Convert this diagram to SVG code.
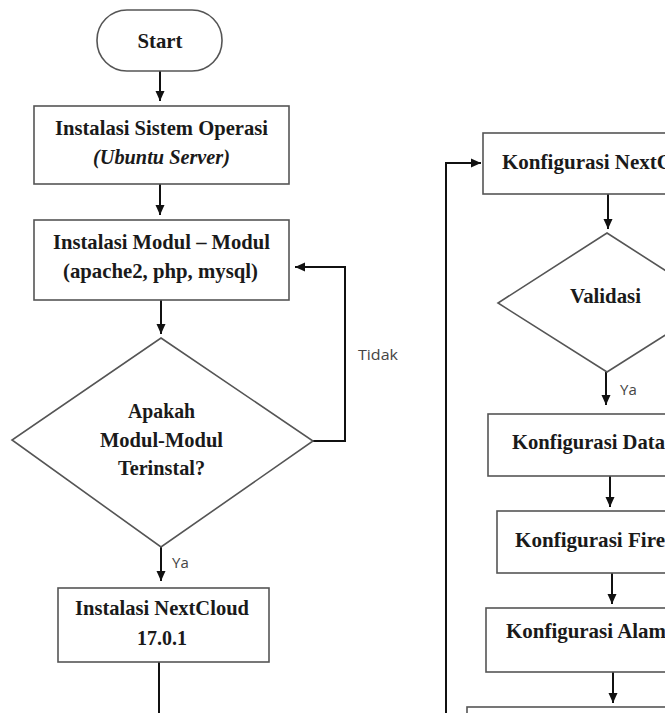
<svg xmlns="http://www.w3.org/2000/svg" width="665" height="713" viewBox="0 0 665 713">
<defs>
<marker id="ah" markerUnits="userSpaceOnUse" markerWidth="10" markerHeight="10" viewBox="0 0 10 10" refX="10" refY="5" orient="auto">
<path d="M0,0.5 L10,5 L0,9.5 Z" fill="#111"/>
</marker>
<style>
.shape{fill:#fff;stroke:#555;stroke-width:1.6}
.conn{fill:none;stroke:#111;stroke-width:2}
.t{font-family:"Liberation Serif","Times New Roman",serif;font-weight:bold;font-size:22px;fill:#1a1a1a}
.c{text-anchor:middle}
.i{font-style:italic}
.lbl{font-family:"Open Sans","DejaVu Sans",sans-serif;font-size:15px;fill:#444}
</style>
</defs>
<rect width="665" height="713" fill="#fff"/>
<g id="connectors">
<path class="conn" d="M160,71 V101" marker-end="url(#ah)"/>
<path class="conn" d="M160,184 V215" marker-end="url(#ah)"/>
<path class="conn" d="M161,300 V334" marker-end="url(#ah)"/>
<path class="conn" d="M313,441 H345 V267 H295" marker-end="url(#ah)"/>
<path class="conn" d="M161,547 V581" marker-end="url(#ah)"/>
<path class="conn" d="M159,662 V713"/>
<path class="conn" d="M446,713 V163 H481" marker-end="url(#ah)"/>
<path class="conn" d="M608,194 V229" marker-end="url(#ah)"/>
<path class="conn" d="M606,372 V405" marker-end="url(#ah)"/>
<path class="conn" d="M610,476 V507" marker-end="url(#ah)"/>
<path class="conn" d="M612,573 V604" marker-end="url(#ah)"/>
<path class="conn" d="M613,672 V703" marker-end="url(#ah)"/>
<text class="lbl" x="358" y="360" textLength="40" lengthAdjust="spacingAndGlyphs">Tidak</text>
<text class="lbl" x="172" y="568">Ya</text>
<text class="lbl" x="620" y="395">Ya</text>
</g>
<g id="start">
<rect class="shape" x="97" y="10" width="125" height="61" rx="30" ry="30"/>
<text class="t c" x="160" y="48" textLength="45" lengthAdjust="spacingAndGlyphs">Start</text>
</g>
<g id="instalasi-os">
<rect class="shape" x="34" y="106" width="255" height="78"/>
<text class="t c" x="161.5" y="135" textLength="213" lengthAdjust="spacingAndGlyphs">Instalasi Sistem Operasi</text>
<text class="t c i" x="161.5" y="164" textLength="137" lengthAdjust="spacingAndGlyphs">(Ubuntu Server)</text>
</g>
<g id="instalasi-modul">
<rect class="shape" x="34" y="220" width="255" height="80"/>
<text class="t c" x="161.5" y="249" textLength="217" lengthAdjust="spacingAndGlyphs">Instalasi Modul – Modul</text>
<text class="t c" x="160.5" y="278" textLength="195" lengthAdjust="spacingAndGlyphs">(apache2, php, mysql)</text>
</g>
<g id="cek-modul">
<polygon class="shape" points="161,338 313,441 161,547 12,440"/>
<text class="t c" x="161.5" y="418" textLength="67" lengthAdjust="spacingAndGlyphs">Apakah</text>
<text class="t c" x="161.5" y="447" textLength="123" lengthAdjust="spacingAndGlyphs">Modul-Modul</text>
<text class="t c" x="161.5" y="475" textLength="87" lengthAdjust="spacingAndGlyphs">Terinstal?</text>
</g>
<g id="instalasi-nextcloud">
<rect class="shape" x="58" y="588" width="211" height="74"/>
<text class="t c" x="162" y="615" textLength="174" lengthAdjust="spacingAndGlyphs">Instalasi NextCloud</text>
<text class="t c" x="162" y="645" textLength="50" lengthAdjust="spacingAndGlyphs">17.0.1</text>
</g>
<g id="konfigurasi-nextcloud">
<rect class="shape" x="483" y="133" width="200" height="61"/>
<text class="t" x="502" y="169" textLength="170" lengthAdjust="spacingAndGlyphs">Konfigurasi NextC</text>
</g>
<g id="validasi">
<polygon class="shape" points="607,233 716,303 607,372 498,303"/>
<text class="t c" x="605.5" y="303" textLength="71" lengthAdjust="spacingAndGlyphs">Validasi</text>
</g>
<g id="konfigurasi-data">
<rect class="shape" x="488" y="414" width="200" height="62"/>
<text class="t" x="512" y="449" textLength="153" lengthAdjust="spacingAndGlyphs">Konfigurasi Data</text>
</g>
<g id="konfigurasi-firewall">
<rect class="shape" x="497" y="511" width="200" height="62"/>
<text class="t" x="515" y="547" textLength="150" lengthAdjust="spacingAndGlyphs">Konfigurasi Fire</text>
</g>
<g id="konfigurasi-alamat">
<rect class="shape" x="486" y="608" width="200" height="64"/>
<text class="t" x="506" y="638" textLength="160" lengthAdjust="spacingAndGlyphs">Konfigurasi Alam</text>
</g>
<g id="next-step">
<rect class="shape" x="467" y="707" width="220" height="40"/>
</g>
</svg>
